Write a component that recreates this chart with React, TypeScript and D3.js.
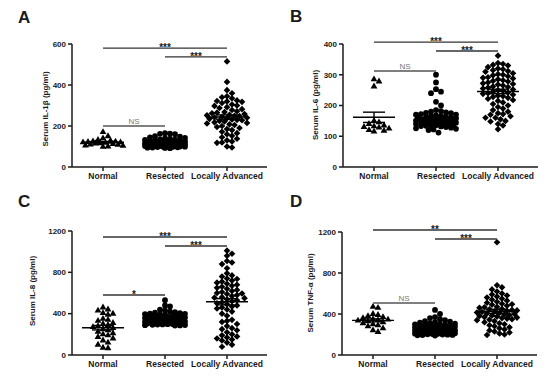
import React from "react";
import * as d3 from "d3";

const categories = ["Normal", "Resected", "Locally Advanced"];

// Serum IL-1β (pg/ml)
const il1bNormal = [170, 150, 140, 132, 128, 125, 124, 122, 120, 120, 118, 116, 115, 112, 110, 108, 105, 103, 100, 98];
const il1bResected = [165, 163, 162, 160, 150, 148, 145, 142, 140, 138, 135, 133, 132, 130, 130, 128, 127, 125, 125, 123, 122, 120, 120, 120, 119, 118, 118, 117, 116, 115, 115, 114, 113, 112, 112, 111, 110, 110, 109, 108, 108, 107, 106, 105, 105, 104, 103, 102, 102, 101, 100, 100, 99, 98, 97, 96, 95, 94, 93, 92];
const il1bAdvanced = [515, 415, 375, 360, 345, 340, 335, 325, 322, 320, 318, 312, 305, 300, 298, 292, 288, 282, 278, 272, 268, 265, 262, 258, 255, 252, 250, 248, 245, 242, 240, 238, 235, 232, 230, 228, 225, 222, 218, 215, 212, 208, 205, 200, 195, 190, 185, 180, 172, 165, 160, 152, 145, 138, 130, 125, 120, 118, 100, 95];
const il1bTicks = [0, 200, 400, 600];

// Serum IL-6 (pg/ml)
const il6Normal = [285, 278, 262, 150, 145, 140, 135, 132, 130, 128, 125, 120, 118, 115];
const il6Resected = [300, 275, 253, 245, 240, 212, 200, 185, 182, 180, 178, 176, 175, 172, 170, 170, 168, 166, 165, 164, 162, 160, 160, 158, 157, 156, 155, 154, 153, 152, 151, 150, 150, 149, 148, 147, 146, 145, 145, 144, 143, 142, 141, 140, 140, 139, 138, 137, 136, 135, 134, 133, 132, 130, 128, 126, 124, 122, 120, 112];
const il6Advanced = [362, 338, 335, 332, 330, 325, 320, 318, 315, 312, 310, 305, 302, 300, 298, 295, 292, 290, 288, 285, 282, 280, 278, 275, 272, 270, 268, 265, 262, 260, 258, 255, 252, 250, 248, 245, 242, 240, 238, 235, 232, 230, 228, 225, 222, 218, 215, 210, 205, 200, 195, 190, 185, 180, 175, 172, 170, 165, 160, 160, 155, 150, 148, 140, 135, 123];
const il6Ticks = [0, 100, 200, 300, 400];

// Serum IL-8 (pg/ml)
const il8Normal = [460, 440, 430, 405, 400, 390, 350, 340, 330, 310, 300, 290, 280, 270, 260, 250, 240, 225, 210, 200, 190, 175, 160, 140, 120, 100, 70, 65];
const il8Resected = [530, 480, 470, 440, 430, 420, 415, 410, 405, 400, 398, 395, 392, 390, 388, 385, 382, 380, 378, 375, 372, 370, 368, 365, 362, 360, 358, 355, 352, 350, 348, 345, 342, 340, 338, 335, 332, 330, 328, 325, 322, 320, 318, 316, 314, 312, 310, 308, 306, 304, 302, 300, 298, 296, 294, 292, 290, 288, 286, 285];
const il8Advanced = [1010, 980, 960, 910, 895, 880, 840, 790, 770, 760, 740, 735, 720, 710, 700, 690, 680, 670, 660, 650, 640, 630, 620, 610, 600, 595, 590, 580, 570, 560, 555, 550, 540, 530, 520, 510, 500, 490, 480, 470, 460, 450, 440, 420, 400, 380, 340, 330, 320, 300, 280, 260, 250, 240, 220, 200, 190, 180, 170, 160, 150, 140, 120, 100, 80];
const il8Ticks = [0, 400, 800, 1200];

// Serum TNF-α (pg/ml)
const tnfNormal = [470, 460, 400, 390, 380, 370, 360, 350, 345, 340, 335, 330, 320, 310, 300, 290, 280, 260, 240, 225];
const tnfResected = [440, 400, 370, 360, 350, 340, 330, 325, 320, 315, 310, 305, 300, 298, 295, 292, 290, 288, 285, 282, 280, 278, 275, 272, 270, 268, 265, 262, 260, 258, 255, 252, 250, 248, 245, 242, 240, 238, 236, 234, 232, 230, 228, 226, 224, 222, 220, 218, 216, 214, 212, 210, 208, 206, 204, 202, 200, 198, 196, 194, 192, 190];
const tnfAdvanced = [1100, 680, 660, 640, 620, 600, 590, 580, 570, 560, 550, 540, 530, 520, 510, 500, 495, 490, 480, 470, 465, 460, 450, 445, 440, 435, 430, 425, 420, 415, 410, 405, 400, 395, 390, 385, 380, 375, 370, 365, 360, 355, 350, 345, 340, 330, 320, 310, 300, 290, 280, 270, 260, 250, 240, 230, 220, 210, 200, 195];
const tnfTicks = [0, 400, 800, 1200];

// significance brackets: [from category, to category, level (pg/ml), label]
const il1bBrackets: [number, number, number, string][] = [[0, 2, 580, "***"], [1, 2, 537, "***"], [0, 1, 200, "NS"]];
const il6Brackets: [number, number, number, string][] = [[0, 2, 406, "***"], [1, 2, 377, "***"], [0, 1, 312, "NS"]];
const il8Brackets: [number, number, number, string][] = [[0, 2, 1142, "***"], [1, 2, 1055, "***"], [0, 1, 580, "*"]];
const tnfBrackets: [number, number, number, string][] = [[0, 2, 1220, "**"], [1, 2, 1132, "***"], [0, 1, 507, "NS"]];

const FONT = '"Liberation Sans", Arial, Helvetica, sans-serif';
const INK = "#1a1a1a";

const triPath = d3.symbol(d3.symbolTriangle, 20)()!;
const dotPath = d3.symbol(d3.symbolCircle, 26)()!;
const sqPath = d3.symbol(d3.symbolSquare, 22)()!;

// simple Prism-like scatter: spread points sideways when they collide
function swarm(values: number[], y: (v: number) => number, cx: number) {
  const minDist = 5, step = 2.5, maxOff = 20;
  const offsets = [0];
  for (let k = step; k <= maxOff + 1e-6; k += step) offsets.push(k, -k);
  const placed: { x: number; y: number }[] = [];
  const sorted = [...values].sort((a, b) => b - a);
  for (const v of sorted) {
    const py = y(v);
    let best = 0, bestD = -1;
    for (const o of offsets) {
      const px = cx + o;
      let d = Infinity;
      for (const p of placed) {
        const dd = Math.hypot(p.x - px, p.y - py);
        if (dd < d) d = dd;
      }
      if (d >= minDist) { best = o; break; }
      if (d > bestD) { bestD = d; best = o; }
    }
    placed.push({ x: cx + best, y: py });
  }
  return placed;
}

type PanelProps = {
  letter: string;
  title: string;
  groups: number[][];
  ticks: number[];
  brackets: [number, number, number, string][];
  ax: number;
  top: number;
  bottom: number;
  titleX: number;
  titleY: number;
  lx: number;
  ly: number;
};

function Panel(p: PanelProps) {
  const max = p.ticks[p.ticks.length - 1];
  const y = d3.scaleLinear().domain([0, max]).range([p.bottom, p.top]);
  const x = d3.scalePoint<string>().domain(categories).range([p.ax + 31, p.ax + 155]);
  const shapes = [triPath, dotPath, sqPath];

  return (
    <g>
      <text x={p.lx} y={p.ly} fontSize={17} fontWeight="bold" fill={INK}>{p.letter}</text>

      {/* points */}
      {p.groups.map((vals, gi) => {
        const cx = x(categories[gi])!;
        return swarm(vals, y, cx).map((pt, i) => (
          <path key={gi + "-" + i} d={shapes[gi]}
            transform={`translate(${pt.x},${pt.y})${gi === 2 ? " rotate(45)" : ""}`}
            fill="#000" />
        ));
      })}

      {/* mean ± SEM */}
      {p.groups.map((vals, gi) => {
        const cx = x(categories[gi])!;
        const m = d3.mean(vals)!;
        const sem = d3.deviation(vals)! / Math.sqrt(vals.length);
        return (
          <g key={"m" + gi} stroke="#000" strokeWidth={1.4}>
            <line x1={cx - 21} x2={cx + 21} y1={y(m)} y2={y(m)} />
            <line x1={cx} x2={cx} y1={y(m - sem)} y2={y(m + sem)} />
            <line x1={cx - 11} x2={cx + 11} y1={y(m + sem)} y2={y(m + sem)} />
            <line x1={cx - 11} x2={cx + 11} y1={y(m - sem)} y2={y(m - sem)} />
          </g>
        );
      })}

      {/* y axis */}
      <line x1={p.ax} x2={p.ax} y1={p.top} y2={p.bottom} stroke={INK} strokeWidth={1.5} />
      {p.ticks.map((t) => (
        <g key={"t" + t}>
          <line x1={p.ax - 4} x2={p.ax} y1={y(t)} y2={y(t)} stroke={INK} strokeWidth={1.5} />
          <text x={p.ax - 6} y={y(t)} dy="0.35em" textAnchor="end" fontSize={8} fontWeight="bold" fill={INK}>{t}</text>
        </g>
      ))}
      <text transform={`translate(${p.titleX},${p.titleY}) rotate(-90)`} textAnchor="middle" dy="0.35em"
        fontSize={8} fontWeight="bold" fill={INK}>{p.title}</text>

      {/* x axis */}
      <line x1={p.ax} x2={p.ax + 195} y1={p.bottom} y2={p.bottom} stroke={INK} strokeWidth={1.5} />
      {categories.map((c) => (
        <g key={c}>
          <line x1={x(c)} x2={x(c)} y1={p.bottom} y2={p.bottom + 4} stroke={INK} strokeWidth={1.5} />
          <text x={x(c)} y={p.bottom + 12} textAnchor="middle" fontSize={8.5} fontWeight="bold" fill={INK}>{c}</text>
        </g>
      ))}

      {/* significance */}
      {p.brackets.map(([a, b, lvl, lab], i) => {
        const x1 = x(categories[a])!;
        const x2 = x(categories[b])!;
        const ly = y(lvl);
        const ns = lab === "NS";
        return (
          <g key={"b" + i}>
            <line x1={x1} x2={x2} y1={ly} y2={ly} stroke={ns ? "#555" : "#333"} strokeWidth={1.4} />
            <text x={(x1 + x2) / 2} y={ns ? ly - 2 : ly + 3} textAnchor="middle"
              fontSize={ns ? 8 : 10} fontWeight={ns ? "normal" : "bold"} fill={ns ? "#777" : INK}>{lab}</text>
          </g>
        );
      })}
    </g>
  );
}

export default function App() {
  return (
    <svg width={550} height={376} style={{ position: "absolute", left: 0, top: 0, background: "#fff" }} fontFamily={FONT}>
      <Panel letter="A" title="Serum IL-1β (pg/ml)" groups={[il1bNormal, il1bResected, il1bAdvanced]}
        ticks={il1bTicks} brackets={il1bBrackets} ax={72} top={44} bottom={167} titleX={45} titleY={109} lx={18} ly={23} />
      <Panel letter="B" title="Serum IL-6 (pg/ml)" groups={[il6Normal, il6Resected, il6Advanced]}
        ticks={il6Ticks} brackets={il6Brackets} ax={343} top={44} bottom={167} titleX={315} titleY={105} lx={290} ly={22} />
      <Panel letter="C" title="Serum IL-8 (pg/ml)" groups={[il8Normal, il8Resected, il8Advanced]}
        ticks={il8Ticks} brackets={il8Brackets} ax={72} top={231} bottom={355} titleX={32} titleY={291} lx={18} ly={207} />
      <Panel letter="D" title="Serum TNF-α (pg/ml)" groups={[tnfNormal, tnfResected, tnfAdvanced]}
        ticks={tnfTicks} brackets={tnfBrackets} ax={342} top={232} bottom={355} titleX={310} titleY={293} lx={290} ly={207} />
    </svg>
  );
}
